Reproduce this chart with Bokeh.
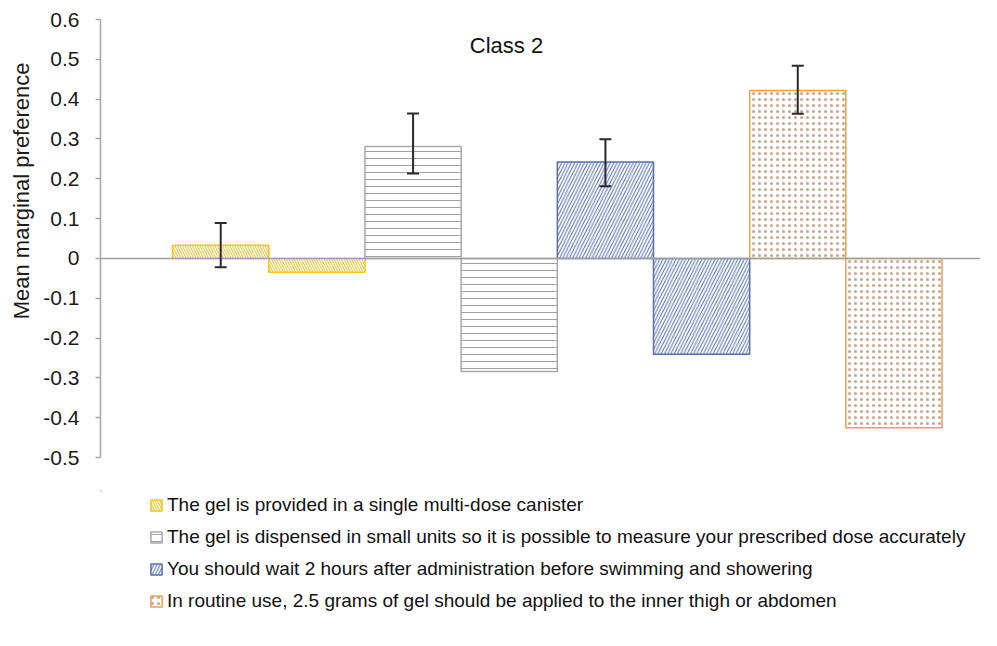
from bokeh.plotting import figure
from bokeh.layouts import column
from bokeh.models import (ColumnDataSource, Range1d, FixedTicker, Span, Label, Title,
                          Legend, LegendItem, Whisker, TeeHead)
from bokeh.embed import file_html
from bokeh.resources import INLINE

# ---------------- data ----------------
title_text = "Class 2"
y_axis_title = "Mean marginal preference"
series_labels = [
    "The gel is provided in a single multi-dose canister",
    "The gel is dispensed in small units so it is possible to measure your prescribed dose accurately",
    "You should wait 2 hours after administration before swimming and showering",
    "In routine use, 2.5 grams of gel should be applied to the inner thigh or abdomen",
]
level_a_values = [0.033, 0.281, 0.242, 0.422]
level_b_values = [-0.035, -0.284, -0.241, -0.425]
err_upper = [0.089, 0.364, 0.299, 0.484]
err_lower = [-0.022, 0.213, 0.181, 0.363]
ytick_values = [-0.5, -0.4, -0.3, -0.2, -0.1, 0, 0.1, 0.2, 0.3, 0.4, 0.5, 0.6]
ytick_labels = ["-0.5", "-0.4", "-0.3", "-0.2", "-0.1", "0", "0.1", "0.2", "0.3", "0.4", "0.5", "0.6"]

# ---------------- styles ----------------
outline_colors = ["#F5C518", "#A8A8A8", "#5570B0", "#E9A050"]
hatch_colors = ["#E8BE20", "#A0A0A0", "#5570B0", "#C8A58A"]
hatch_patterns = ["\\", "-", "/", "."]
hatch_scales = [5, 7, 6.5, 6]
hatch_weights = [1, 1, 1, 1.2]
FONT = "Liberation Sans"


def bar_style(i):
    return dict(fill_color="white", line_color=outline_colors[i], line_width=1.5,
                hatch_pattern=hatch_patterns[i], hatch_color=hatch_colors[i],
                hatch_scale=hatch_scales[i], hatch_weight=hatch_weights[i])


p = figure(width=990, height=490, x_range=Range1d(-0.25, 8.9), y_range=Range1d(-0.5, 0.6),
           x_axis_type=None, output_backend="svg", toolbar_location=None, title=None,
           min_border_left=98, min_border_right=10, min_border_top=19, min_border_bottom=33)
p.grid.visible = False
p.outline_line_color = None

sources = []
for i, lab in enumerate(series_labels):
    src = ColumnDataSource(dict(x=[2 * i + 1, 2 * i + 2], top=[level_a_values[i], level_b_values[i]]))
    sources.append(src)
    p.vbar(x="x", top="top", bottom=0, width=1, source=src, **bar_style(i))

p.add_layout(Span(location=0, dimension="width", line_color="#A0A0A0", line_width=1.5))

err_src = ColumnDataSource(dict(x=[2 * i + 1 for i in range(len(series_labels))],
                                upper=err_upper, lower=err_lower))
whisk = Whisker(source=err_src, base="x", upper="upper", lower="lower", level="overlay",
                line_color="#2a2a2a", line_width=2,
                upper_head=TeeHead(size=12, line_color="#2a2a2a", line_width=2),
                lower_head=TeeHead(size=12, line_color="#2a2a2a", line_width=2))
p.add_layout(whisk)

ax = p.yaxis[0]
ax.ticker = FixedTicker(ticks=ytick_values)
ax.major_label_overrides = dict(zip(ytick_values, ytick_labels))
ax.minor_tick_line_color = None
ax.major_tick_in = 0
ax.major_tick_out = 5
ax.major_tick_line_color = "#A6A6A6"
ax.major_tick_line_width = 1.5
ax.axis_line_color = "#A6A6A6"
ax.axis_line_width = 1.5
ax.major_label_standoff = 16
ax.major_label_text_font = FONT
ax.major_label_text_font_size = "21px"
ax.major_label_text_color = "#1a1a1a"

p.add_layout(Title(text=y_axis_title, align="right", offset=43, text_font=FONT,
                   text_font_size="22px", text_font_style="normal", text_color="#1a1a1a",
                   standoff=13), "left")

p.add_layout(Label(x=406, y=412, x_units="screen", y_units="screen", text=title_text,
                   text_font=FONT, text_font_size="22px", text_color="#111111",
                   text_align="center", text_baseline="middle"))

# ---------------- legend (separate panel below the chart) ----------------
lg = figure(width=990, height=150, x_range=Range1d(300, 301), y_range=Range1d(-500, -499),
            x_axis_type=None, y_axis_type=None, output_backend="svg", toolbar_location=None,
            title=None, min_border=0)
lg.grid.visible = False
lg.outline_line_color = None

items = []
for i, lab in enumerate(series_labels):
    proxy = lg.vbar(x="x", top="top", bottom=0, width=1, source=sources[i], **bar_style(i))
    items.append(LegendItem(label=lab, renderers=[proxy]))

legend = Legend(items=items, location=(49, 28), orientation="vertical",
                label_text_font=FONT, label_text_font_size="19px", label_text_color="#111111",
                glyph_width=14, glyph_height=14, label_height=20, spacing=10,
                label_standoff=4, padding=0, margin=0,
                border_line_color=None, background_fill_alpha=0)
lg.add_layout(legend)

open("out.html", "w").write(file_html(column(p, lg, spacing=0), INLINE))
